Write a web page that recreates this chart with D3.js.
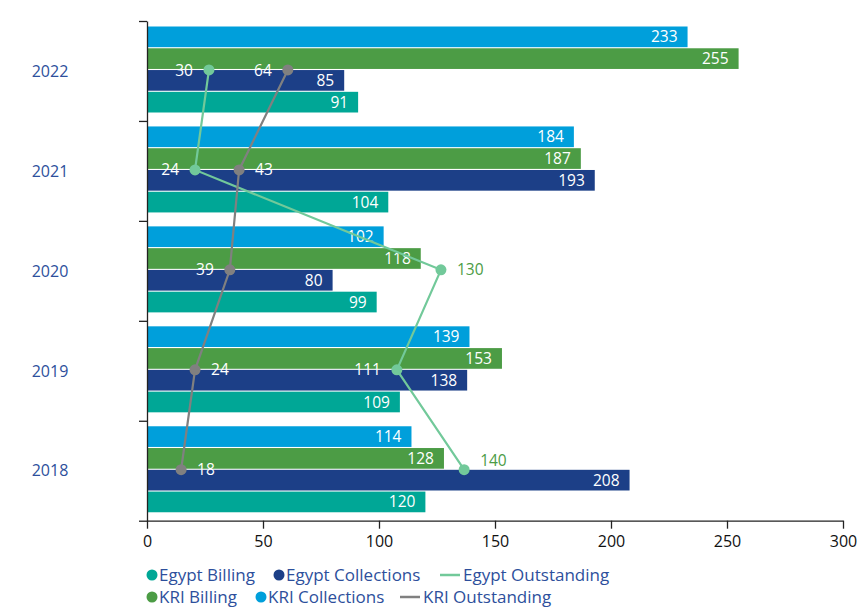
<!DOCTYPE html>
<html>
<head>
<meta charset="utf-8">
<script src="https://cdn.jsdelivr.net/npm/d3@7"></script>
<style>
  body { margin: 0; background: #fff; }
  svg { font-family: "Open Sans", Lato, sans-serif; }
</style>
</head>
<body>
<div id="chart"></div>
<script>
// data, ordered 2018 -> 2022
var years = ["2018", "2019", "2020", "2021", "2022"];
var egyptBilling = [120, 109, 99, 104, 91];
var egyptCollections = [208, 138, 80, 193, 85];
var kriBilling = [128, 153, 118, 187, 255];
var kriCollections = [114, 139, 102, 184, 233];
var egyptOutstanding = [140, 111, 130, 24, 30];
var kriOutstanding = [18, 24, 39, 43, 64];
var xTicks = [0, 50, 100, 150, 200, 250, 300];

// which side of the dot the line labels sit on (and a small vertical nudge)
var egyptOutSide = ["right", "left", "right", "left", "left"];
var egyptOutNudge = [-9, 0, 0, 0, 0];
var kriOutSide = ["right", "right", "left", "right", "left"];
var kriOutNudge = [0, 0, 0, 0, 0];

var colors = {
  egyptBilling: "#00a796",
  egyptCollections: "#1c3f87",
  kriBilling: "#4c9c45",
  kriCollections: "#009fdb",
  egyptOut: "#72c99a",
  kriOut: "#808080",
  text: "#2d4f9c"
};

var width = 862, height = 607;
var svg = d3.select("#chart").append("svg")
  .attr("width", width).attr("height", height);

var x = d3.scaleLinear().domain([0, 300]).range([147, 843]);
// the outstanding lines sit slightly left of the bar scale in the original
var xLine = d3.scaleLinear().domain([3.3, 303.3]).range([147, 843]);

var y = d3.scaleBand().domain(years.slice().reverse()).range([21, 520.7]);

var seriesKeys = ["kriCollections", "kriBilling", "egyptCollections", "egyptBilling"];
var seriesData = {
  kriCollections: kriCollections,
  kriBilling: kriBilling,
  egyptCollections: egyptCollections,
  egyptBilling: egyptBilling
};
var yInner = d3.scaleBand().domain(seriesKeys).range([5.5, 91.5]).paddingInner(0.05);

// bars
var bars = [];
years.forEach(function(yr, i) {
  seriesKeys.forEach(function(k) {
    bars.push({ year: yr, key: k, value: seriesData[k][i] });
  });
});

var gBars = svg.append("g");
gBars.selectAll("rect").data(bars).enter().append("rect")
  .attr("x", x(0))
  .attr("y", function(d) { return y(d.year) + yInner(d.key); })
  .attr("width", function(d) { return x(d.value) - x(0); })
  .attr("height", yInner.bandwidth())
  .attr("fill", function(d) { return colors[d.key]; });

gBars.selectAll("text").data(bars).enter().append("text")
  .attr("x", function(d) { return x(d.value) - 10; })
  .attr("y", function(d) { return y(d.year) + yInner(d.key) + yInner.bandwidth() / 2; })
  .attr("dy", "0.36em")
  .attr("text-anchor", "end")
  .attr("fill", "#fff")
  .attr("font-size", 15.5)
  .text(function(d) { return d.value; });

// axes
var xAxis = svg.append("g")
  .attr("transform", "translate(0," + 520.7 + ")")
  .call(d3.axisBottom(x).tickValues(xTicks).tickSize(8).tickPadding(7).tickSizeOuter(0));
xAxis.select(".domain").attr("stroke", "#222").attr("stroke-width", 1.3);
xAxis.selectAll(".tick line").attr("stroke", "#222").attr("stroke-width", 1.3);
xAxis.selectAll("text").attr("font-size", 16).attr("fill", "#111").attr("font-family", "'Open Sans', sans-serif");

var yEdges = d3.scaleLinear().domain([0, 5]).range([21, 520.7]);
var yAxis = svg.append("g")
  .attr("transform", "translate(" + x(0) + ",0)")
  .call(d3.axisLeft(yEdges).ticks(5).tickSize(8).tickFormat("").tickSizeOuter(0));
yAxis.select(".domain").attr("stroke", "#222").attr("stroke-width", 1.3);
yAxis.selectAll(".tick line").attr("stroke", "#222").attr("stroke-width", 1.3);

svg.append("g").selectAll("text").data(years).enter().append("text")
  .attr("x", 50)
  .attr("y", function(d) { return y(d) + y.bandwidth() / 2; })
  .attr("dy", "0.36em")
  .attr("text-anchor", "middle")
  .attr("fill", colors.text)
  .attr("font-size", 16)
  .text(function(d) { return d; });

// outstanding lines
function drawLine(values, sides, nudges, color, labelColorRight) {
  var pts = years.map(function(yr, i) {
    return { year: yr, value: values[i], side: sides[i], nudge: nudges[i] };
  });
  var line = d3.line()
    .x(function(d) { return xLine(d.value); })
    .y(function(d) { return y(d.year) + y.bandwidth() / 2 - 1; });
  var g = svg.append("g");
  g.append("path").datum(pts)
    .attr("d", line)
    .attr("fill", "none")
    .attr("stroke", color)
    .attr("stroke-width", 2.2);
  g.selectAll("circle").data(pts).enter().append("circle")
    .attr("cx", function(d) { return xLine(d.value); })
    .attr("cy", function(d) { return y(d.year) + y.bandwidth() / 2 - 1; })
    .attr("r", 5.5)
    .attr("fill", color);
  return { g: g, pts: pts, labelColorRight: labelColorRight };
}

var egyptLine = drawLine(egyptOutstanding, egyptOutSide, egyptOutNudge, colors.egyptOut, colors.kriBilling);
var kriLine = drawLine(kriOutstanding, kriOutSide, kriOutNudge, colors.kriOut, "#fff");

[egyptLine, kriLine].forEach(function(l) {
  l.g.selectAll("text").data(l.pts).enter().append("text")
    .attr("x", function(d) { return xLine(d.value) + (d.side === "right" ? 16 : -16); })
    .attr("y", function(d) { return y(d.year) + y.bandwidth() / 2 - 1 + d.nudge; })
    .attr("dy", "0.36em")
    .attr("text-anchor", function(d) { return d.side === "right" ? "start" : "end"; })
    .attr("fill", function(d) { return d.side === "right" ? l.labelColorRight : "#fff"; })
    .attr("font-size", 15.5)
    .text(function(d) { return d.value; });
});

// legend
var legendItems = [
  { label: "Egypt Billing", color: colors.egyptBilling, type: "dot", x: 152, y: 575 },
  { label: "Egypt Collections", color: colors.egyptCollections, type: "dot", x: 279, y: 575 },
  { label: "Egypt Outstanding", color: colors.egyptOut, type: "line", x: 440, y: 575 },
  { label: "KRI Billing", color: colors.kriBilling, type: "dot", x: 152, y: 597 },
  { label: "KRI Collections", color: colors.kriCollections, type: "dot", x: 261, y: 597 },
  { label: "KRI Outstanding", color: colors.kriOut, type: "line", x: 400, y: 597 }
];
var lg = svg.append("g").selectAll("g").data(legendItems).enter().append("g")
  .attr("transform", function(d) { return "translate(" + d.x + "," + d.y + ")"; });
lg.filter(function(d) { return d.type === "dot"; }).append("circle")
  .attr("r", 5.5).attr("fill", function(d) { return d.color; });
lg.filter(function(d) { return d.type === "line"; }).append("line")
  .attr("x1", 0).attr("x2", 20)
  .attr("stroke", function(d) { return d.color; }).attr("stroke-width", 2.5);
lg.append("text")
  .attr("x", function(d) { return d.type === "dot" ? 7 : 23; })
  .attr("dy", "0.36em")
  .attr("fill", colors.text)
  .attr("font-size", 17)
  .text(function(d) { return d.label; });
</script>
</body>
</html>
